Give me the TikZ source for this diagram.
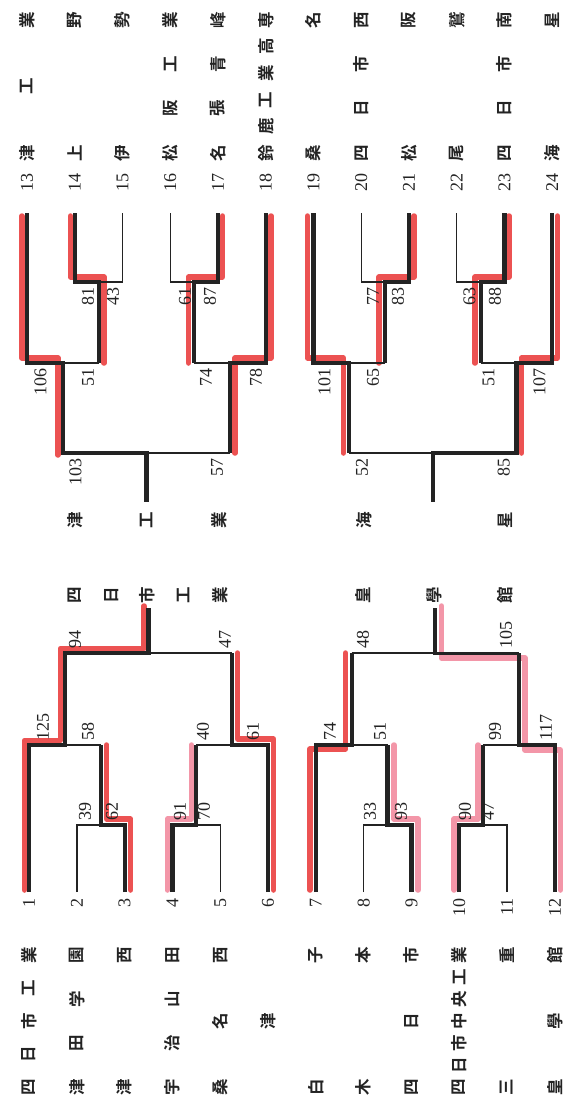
\documentclass[tikz,border=0pt]{standalone}
\usepackage{fontspec}
\setmainfont{Liberation Serif}
\newfontfamily\cjk{Noto Sans CJK JP}[BoldFont=* Bold]
\definecolor{hlred}{RGB}{236,82,82}
\definecolor{hlpink}{RGB}{243,150,168}
\definecolor{ink}{RGB}{35,35,35}
\tikzset{
  thk/.style={draw=ink, line width=4.2pt, line join=miter, line cap=butt},
  thm/.style={draw=ink, line width=3pt, line cap=butt},
  thn/.style={draw=ink, line width=1.4pt},
  hlr/.style={draw=hlred, line width=5.5pt, line join=round, line cap=round},
  hlp/.style={draw=hlpink, line width=5.5pt, line join=round, line cap=round},
  num/.style={rotate=90, inner sep=0pt, font=\fontsize{18}{18}\selectfont, text=ink},
  cj/.style={rotate=90, inner sep=0pt, font=\cjk\bfseries\fontsize{16.5}{16.5}\selectfont, text=ink},
}
% left bracket team: index, number of characters, characters
\newcommand\teamL[3]{%
  \pgfmathsetmacro\tX{29+47.8*(#1-1)}%
  \node[num,anchor=east] (tn#1) at (\tX,898) {#1};%
  \foreach \ch [count=\kk from 0] in {#3}{%
    \pgfmathsetmacro\tY{1087-\kk*132/(#2-1)}%
    \node[cj] (tc#1-\kk) at (\tX,\tY) {\ch};}%
}
% right bracket team
\newcommand\teamR[3]{%
  \pgfmathsetmacro\tX{27+47.75*(#1-13)}%
  \node[num,anchor=west] (tn#1) at (\tX,192) {#1};%
  \foreach \ch [count=\kk from 0] in {#3}{%
    \pgfmathsetmacro\tY{153-\kk*133/(#2-1)}%
    \node[cj] (tc#1-\kk) at (\tX,\tY) {\ch};}%
}
\begin{document}
\begin{tikzpicture}[x=1pt,y=-1pt]
\useasboundingbox[fill=white] (0,0) rectangle (563,1102);

% ---------------- red highlights ----------------
% left, block A
\draw[hlr] (24.5,890) -- (24.5,740.5) -- (60.4,740.5) -- (60.4,648.5) -- (144,648.5) -- (144,606);
\draw[hlr] (130.6,890) -- (130.6,819) -- (106.7,819) -- (106.7,745);
\draw[hlp] (167.4,890) -- (167.4,819) -- (191.3,819) -- (191.3,745);
\draw[hlr] (273.5,890) -- (273.5,739) -- (237.7,739) -- (237.7,653);
% left, block B
\draw[hlr] (309.8,890) -- (309.8,749) -- (345.6,749) -- (345.6,653);
\draw[hlp] (417.9,890) -- (417.9,819) -- (394,819) -- (394,745);
\draw[hlp] (454.2,890) -- (454.2,819) -- (478.1,819) -- (478.1,745);
\draw[hlp] (560.3,890) -- (560.3,750) -- (525,750) -- (525,658) -- (441.3,658) -- (441.3,606);
% right, block C
\draw[hlr] (21.8,216) -- (21.8,358) -- (57.8,358) -- (57.8,455);
\draw[hlr] (70.5,216) -- (70.5,277) -- (104,277) -- (104,363);
\draw[hlr] (222.5,216) -- (222.5,277) -- (188.5,277) -- (188.5,363);
\draw[hlr] (271,216) -- (271,358) -- (235,358) -- (235,453);
% right, block D
\draw[hlr] (307.5,216) -- (307.5,358) -- (343.3,358) -- (343.3,453);
\draw[hlr] (414,216) -- (414,277) -- (379,277) -- (379,363);
\draw[hlr] (509,216) -- (509,277) -- (475,277) -- (475,363);
\draw[hlr] (557.5,216) -- (557.5,358) -- (521.5,358) -- (521.5,453);

% ---------------- thin (losing) lines ----------------
% block A
\draw[thn] (76.8,892) -- (76.8,825) -- (100.7,825);
\draw[thn] (100.7,745) -- (64.9,745);
\draw[thn] (220.2,892) -- (220.2,825) -- (196.3,825);
\draw[thn] (196.3,745) -- (232.2,745);
\draw[thn] (232.2,653) -- (148.5,653);
% block B
\draw[thn] (363.6,892) -- (363.6,825) -- (387.5,825);
\draw[thn] (387.5,745) -- (351.6,745);
\draw[thn] (507,892) -- (507,825) -- (483.1,825);
\draw[thn] (483.1,745) -- (519,745);
\draw[thn] (351.6,653) -- (435.3,653);
% block C
\draw[thn] (122.5,213) -- (122.5,282) -- (98.6,282);
\draw[thn] (98.6,363) -- (62.8,363);
\draw[thn] (170.25,213) -- (170.25,282) -- (194.1,282);
\draw[thn] (194.1,363) -- (229.9,363);
\draw[thn] (229.9,453) -- (146.4,453);
% block D
\draw[thn] (361.25,213) -- (361.25,282) -- (385.1,282);
\draw[thn] (385.1,363) -- (349.3,363);
\draw[thn] (456.75,213) -- (456.75,282) -- (480.6,282);
\draw[thn] (480.6,363) -- (516.4,363);
\draw[thn] (349.3,453) -- (432.9,453);

% ---------------- thick (winning) lines ----------------
% block A
\draw[thk] (29,892) -- (29,745) -- (64.9,745) -- (64.9,653) -- (148.5,653) -- (148.5,608);
\draw[thk] (124.6,892) -- (124.6,825) -- (100.7,825) -- (100.7,745);
\draw[thk] (172.4,892) -- (172.4,825) -- (196.3,825) -- (196.3,745);
\draw[thk] (268,892) -- (268,745) -- (232.2,745) -- (232.2,653);
% block B
\draw[thk] (315.8,892) -- (315.8,745) -- (351.6,745) -- (351.6,653);
\draw[thk] (411.4,892) -- (411.4,825) -- (387.5,825) -- (387.5,745);
\draw[thk] (459.2,892) -- (459.2,825) -- (483.1,825) -- (483.1,745);
\draw[thk] (554.8,892) -- (554.8,745) -- (519,745) -- (519,653);
\draw[thm] (519,653) -- (435.3,653);
\draw[thk] (435.3,654.5) -- (435.3,608);
% block C
\draw[thk] (27,213) -- (27,363) -- (62.8,363) -- (62.8,453) -- (146.4,453) -- (146.4,502);
\draw[thk] (74.75,213) -- (74.75,282) -- (98.6,282) -- (98.6,363);
\draw[thk] (218,213) -- (218,282) -- (194.1,282) -- (194.1,363);
\draw[thk] (265.75,213) -- (265.75,363) -- (229.9,363) -- (229.9,453);
% block D
\draw[thk] (313.5,213) -- (313.5,363) -- (349.3,363) -- (349.3,453);
\draw[thk] (409,213) -- (409,282) -- (385.1,282) -- (385.1,363);
\draw[thk] (504.5,213) -- (504.5,282) -- (480.6,282) -- (480.6,363);
\draw[thk] (552.25,213) -- (552.25,363) -- (516.4,363) -- (516.4,453) -- (432.9,453) -- (432.9,502);

% ---------------- teams ----------------
\teamL{1}{5}{四,日,市,工,業}
\teamL{2}{4}{津,田,学,園}
\teamL{3}{2}{津,西}
\teamL{4}{4}{宇,治,山,田}
\teamL{5}{3}{桑,名,西}
\node[num,anchor=east] (tn6) at (268,898) {6};
\node[cj] (tc6-0) at (268,1021) {津};
\teamL{7}{2}{白,子}
\teamL{8}{2}{木,本}
\teamL{9}{3}{四,日,市}
\teamL{10}{7}{四,日,市,中,央,工,業}
\teamL{11}{2}{三,重}
\teamL{12}{3}{皇,學,館}

\teamR{13}{3}{津,工,業}
\teamR{14}{2}{上,野}
\teamR{15}{2}{伊,勢}
\teamR{16}{4}{松,阪,工,業}
\teamR{17}{4}{名,張,青,峰}
\teamR{18}{6}{鈴,鹿,工,業,高,専}
\teamR{19}{2}{桑,名}
\teamR{20}{4}{四,日,市,西}
\teamR{21}{2}{松,阪}
\teamR{22}{2}{尾,鷲}
\teamR{23}{4}{四,日,市,南}
\teamR{24}{2}{海,星}

% ---------------- block winners ----------------
\foreach \ch/\xx [count=\kk] in {四/75,日/111.25,市/147.5,工/183.75,業/220}
  \node[cj] (wa\kk) at (\xx,595) {\ch};
\foreach \ch/\xx [count=\kk] in {皇/363,學/434,館/505}
  \node[cj] (wb\kk) at (\xx,595) {\ch};
\foreach \ch/\xx [count=\kk] in {津/75,工/147,業/219}
  \node[cj] (wc\kk) at (\xx,520) {\ch};
\foreach \ch/\xx [count=\kk] in {海/364,星/505}
  \node[cj] (wd\kk) at (\xx,520) {\ch};

% ---------------- scores, left bracket (above lines) ----------------
\foreach \s/\xx/\yy [count=\kk] in {125/43/745, 58/88/745, 39/85/825, 62/112/825, 94/75/653, 47/225/653,
    91/180/825, 70/204/825, 40/203/745, 61/253/745,
    74/330/745, 51/380/745, 33/370/825, 93/401/825, 48/363/653, 105/506/653,
    90/465/825, 47/488/825, 99/495/745, 117/546/745}
  \node[num,anchor=west] (sl\kk) at (\xx,\yy-4) {\s};

% ---------------- scores, right bracket (below lines) ----------------
\foreach \s/\xx/\yy [count=\kk] in {81/88/282, 43/113/282, 106/40.6/363, 51/88/363, 103/75.4/453, 57/217/453,
    61/185/282, 87/210/282, 74/206/363, 78/256/363,
    77/373/282, 83/398/282, 101/324.5/363, 65/373/363, 52/362/453, 85/503.7/453,
    63/469.6/282, 88/495/282, 51/488.6/363, 107/539.5/363}
  \node[num,anchor=east] (sr\kk) at (\xx,\yy+5) {\s};
\end{tikzpicture}
\end{document}
